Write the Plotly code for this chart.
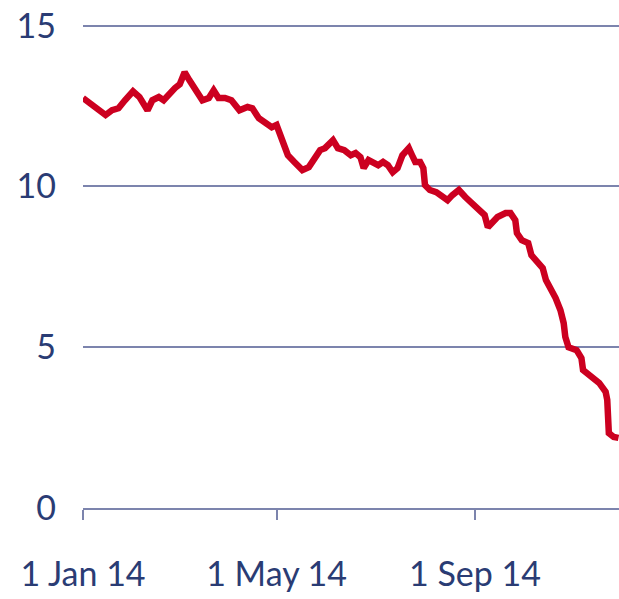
import plotly.graph_objects as go

# Weekly-ish observations through 2014
dates = [
    "2014-01-01", "2014-01-15", "2014-01-19", "2014-01-23", "2014-01-27",
    "2014-02-01", "2014-02-05", "2014-02-10", "2014-02-13", "2014-02-17",
    "2014-02-20", "2014-02-24", "2014-02-27", "2014-03-02", "2014-03-05",
    "2014-03-08", "2014-03-13", "2014-03-16", "2014-03-20", "2014-03-23",
    "2014-03-26", "2014-03-30", "2014-04-03", "2014-04-08", "2014-04-13",
    "2014-04-16", "2014-04-20", "2014-04-24", "2014-04-28", "2014-05-01",
    "2014-05-05", "2014-05-08", "2014-05-12", "2014-05-17", "2014-05-21",
    "2014-05-23", "2014-05-28", "2014-05-31", "2014-06-05", "2014-06-08",
    "2014-06-12", "2014-06-16", "2014-06-19", "2014-06-22", "2014-06-24",
    "2014-06-27", "2014-06-30", "2014-07-03", "2014-07-06", "2014-07-09",
    "2014-07-12", "2014-07-15", "2014-07-18", "2014-07-22", "2014-07-24",
    "2014-07-26", "2014-07-29", "2014-07-31", "2014-08-01", "2014-08-04",
    "2014-08-08", "2014-08-12", "2014-08-15", "2014-08-18", "2014-08-22",
    "2014-08-26", "2014-08-30", "2014-09-04", "2014-09-07", "2014-09-09",
    "2014-09-12", "2014-09-15", "2014-09-20", "2014-09-23", "2014-09-26",
    "2014-09-27", "2014-09-30", "2014-10-04", "2014-10-06", "2014-10-10",
    "2014-10-13", "2014-10-15", "2014-10-18", "2014-10-21", "2014-10-24",
    "2014-10-26", "2014-10-27", "2014-10-29", "2014-11-03", "2014-11-06",
    "2014-11-07", "2014-11-11", "2014-11-17", "2014-11-21", "2014-11-22",
    "2014-11-23", "2014-11-26", "2014-11-29",
]

values = [
    12.75, 12.22, 12.37, 12.43, 12.68,
    12.96, 12.78, 12.37, 12.68, 12.78,
    12.68, 12.93, 13.06, 13.18, 13.55,
    13.30, 12.90, 12.68, 12.75, 12.99,
    12.75, 12.75, 12.68, 12.37, 12.47,
    12.43, 12.12, 11.97, 11.84, 11.91,
    11.44, 10.97, 10.76, 10.51, 10.60,
    10.76, 11.13, 11.19, 11.44, 11.19,
    11.13, 10.97, 11.04, 10.91, 10.57,
    10.82, 10.76, 10.66, 10.76, 10.66,
    10.44, 10.57, 10.97, 11.19, 10.97,
    10.76, 10.76, 10.57, 10.04, 9.89,
    9.82, 9.64, 9.57, 9.73, 9.89,
    9.67, 9.48, 9.26, 9.11, 8.73,
    8.89, 9.05, 9.17, 9.17, 8.95,
    8.55, 8.33, 8.24, 7.86, 7.62,
    7.46, 7.09, 6.84, 6.53, 6.15,
    5.75, 5.32, 5.00, 4.91, 4.66,
    4.29, 4.13, 3.89, 3.61, 3.36,
    2.33, 2.21, 2.18,
]

x_tick_vals = ["2014-01-01", "2014-05-01", "2014-09-01"]
x_tick_text = ["1 Jan 14", "1 May 14", "1 Sep 14"]
y_tick_vals = [0, 5, 10, 15]
y_tick_text = ["0", "5", "10", "15"]

LINE_RED = "#cc0020"
GRID = "#7c84ad"
TEXT = "#2a3c74"

fig = go.Figure(
    go.Scatter(
        x=dates,
        y=values,
        mode="lines",
        line=dict(color=LINE_RED, width=6.5),
        hoverinfo="skip",
    )
)

fig.update_layout(
    width=619,
    height=599,
    margin=dict(l=83, r=0, t=16, b=91),
    paper_bgcolor="white",
    plot_bgcolor="white",
    showlegend=False,
    font=dict(family="Lato", size=34, color=TEXT),
)

fig.update_xaxes(
    range=["2014-01-01", "2014-11-29 07:00"],
    tickvals=x_tick_vals,
    ticktext=x_tick_text,
    showgrid=False,
    zeroline=False,
    showline=True,
    linecolor=GRID,
    linewidth=2,
    ticks="outside",
    ticklen=10,
    tickwidth=1.5,
    tickcolor=GRID,
    ticklabelstandoff=25,
    tickfont=dict(family="Lato", size=34, color=TEXT),
)

fig.update_yaxes(
    range=[0, 15.3],
    tickvals=y_tick_vals,
    ticktext=y_tick_text,
    showgrid=True,
    gridcolor=GRID,
    gridwidth=2,
    zeroline=False,
    showline=False,
    ticks="",
    ticklabelstandoff=26,
    tickfont=dict(family="Lato", size=34, color=TEXT),
)

fig.write_html("out.html")
